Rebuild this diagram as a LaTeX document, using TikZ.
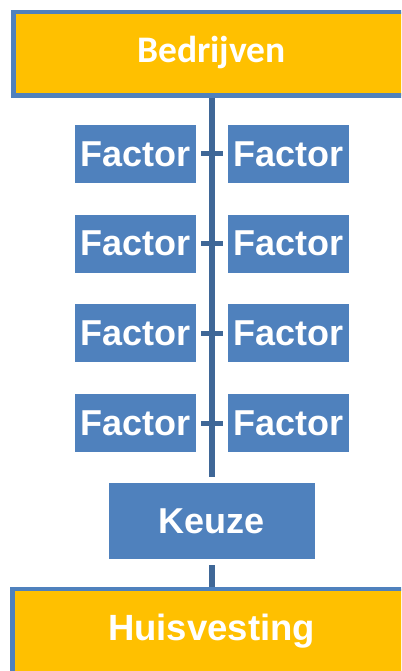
\documentclass[tikz,border=0pt]{standalone}
\usepackage{fontspec}
\setmainfont{Liberation Sans}
\newfontfamily\calibrifont{Carlito}
\definecolor{boxblue}{HTML}{4F81BD}
\definecolor{linkblue}{HTML}{3F6797}
\definecolor{boxgold}{HTML}{FFC000}
\tikzset{
  goldbox/.style={draw=boxblue, line width=4.5pt, fill=boxgold, inner sep=0pt},
  factorbox/.style={fill=boxblue, minimum width=121pt, minimum height=58pt, inner sep=0pt,
    text=white, font=\fontsize{36}{40}\selectfont\bfseries},
  keuzebox/.style={fill=boxblue, minimum width=206pt, minimum height=76pt, inner sep=0pt,
    text=white, font=\fontsize{36}{40}\selectfont\bfseries},
  label/.style={text=white, inner sep=0pt},
  link/.style={draw=linkblue, line width=6pt},
  tick/.style={draw=linkblue, line width=5pt}
}
\begin{document}
\begin{tikzpicture}[x=1pt,y=-1pt]
\useasboundingbox (0,0) rectangle (401,671);
\clip (0,0) rectangle (401,671);

% top and bottom boxes
\node[goldbox, minimum width=395.5pt, minimum height=83.5pt] (bed) at (211,54) {};
\node[label, font=\calibrifont\fontsize{37.5}{40}\selectfont\bfseries] at (211.5,52.5) {Bedrijven};
\node[goldbox, minimum width=397.5pt, minimum height=90pt] (huis) at (211,634) {};
\node[label, font=\fontsize{36.5}{40}\selectfont\bfseries] at (211.5,631.5) {Huisvesting};

% factor pairs
\foreach \i/\y in {1/154, 2/243.5, 3/333.3, 4/423}{
  \node[factorbox] (L\i) at (135.5,\y) {Factor};
  \node[factorbox] (R\i) at (288.5,\y) {Factor};
  \coordinate (tl\i) at (201,\y);
  \coordinate (tr\i) at (222.7,\y);
  \draw[tick] (tl\i) -- (tr\i);
}

% choice box
\node[keuzebox] (keuze) at (212,521) {Keuze};

% connectors
\coordinate (spineTop) at (212,98);
\coordinate (spineEnd) at (212,477);
\coordinate (lowTop) at (212,565);
\coordinate (lowEnd) at (212,587);
\draw[link] (spineTop) -- (spineEnd);
\draw[link] (lowTop) -- (lowEnd);
\end{tikzpicture}
\end{document}
